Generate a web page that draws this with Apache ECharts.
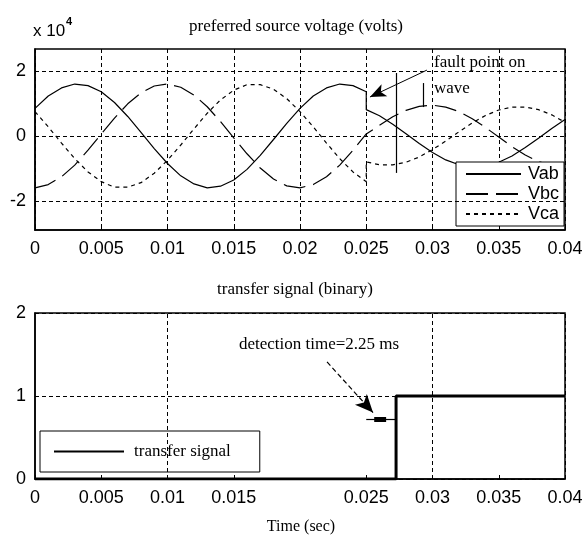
<!DOCTYPE html>
<html>
<head>
<meta charset="utf-8">
<script src="https://cdn.jsdelivr.net/npm/echarts@6/dist/echarts.min.js"></script>
<style>
  html, body { margin: 0; padding: 0; background: #fff; }
  #chart { width: 586px; height: 536px; }
</style>
</head>
<body>
<div id="chart"></div>
<script>
// Sample times (s); 0.025 appears twice: the value just before and just after the fault.
const t = [0, 0.001, 0.002, 0.003, 0.004, 0.005, 0.006, 0.007, 0.008, 0.009,
  0.010, 0.011, 0.012, 0.013, 0.014, 0.015, 0.016, 0.017, 0.018, 0.019,
  0.020, 0.021, 0.022, 0.023, 0.024, 0.025,
  0.025, 0.026, 0.027, 0.028, 0.029, 0.030, 0.031, 0.032, 0.033, 0.034,
  0.035, 0.036, 0.037, 0.038, 0.039, 0.040];

// Line voltages, in units of 10^4 V
const vab = [0.85, 1.23, 1.48, 1.60, 1.55, 1.36, 1.03, 0.60, 0.11, -0.39,
  -0.85, -1.23, -1.48, -1.60, -1.55, -1.36, -1.03, -0.60, -0.11, 0.39,
  0.85, 1.23, 1.48, 1.60, 1.55, 1.36,
  0.81, 0.62, 0.36, 0.07, -0.23, -0.51, -0.74, -0.89, -0.96, -0.93,
  -0.81, -0.62, -0.36, -0.07, 0.23, 0.51];
const vbc = [-1.60, -1.50, -1.26, -0.90, -0.44, 0.06, 0.55, 0.99, 1.33, 1.54,
  1.60, 1.50, 1.26, 0.90, 0.44, -0.06, -0.55, -0.99, -1.33, -1.54,
  -1.60, -1.50, -1.26, -0.90, -0.44, 0.06,
  0.03, 0.33, 0.59, 0.79, 0.91, 0.95, 0.89, 0.75, 0.53, 0.26,
  -0.03, -0.33, -0.59, -0.79, -0.91, -0.95];
const vca = [0.75, 0.28, -0.22, -0.70, -1.11, -1.41, -1.58, -1.58, -1.44, -1.15,
  -0.75, -0.28, 0.22, 0.70, 1.11, 1.41, 1.58, 1.58, 1.44, 1.15,
  0.75, 0.28, -0.22, -0.70, -1.11, -1.41,
  -0.80, -0.89, -0.89, -0.81, -0.65, -0.42, -0.16, 0.13, 0.40, 0.63,
  0.80, 0.89, 0.89, 0.81, 0.65, 0.42];

// Transfer signal (binary), switches at 27.25 ms
const sigT = [0, 0.02725, 0.04];
const sigV = [0, 1, 1];

const voltageNames = ['Vab', 'Vbc', 'Vca'];
const signalName = 'transfer signal';
const topYTicks = [-2, 0, 2];
const bottomXTicks = [0, 0.005, 0.01, 0.015, 0.025, 0.03, 0.035, 0.04];

const SANS = "'Liberation Sans',Arial,sans-serif";
const SERIF = "'Liberation Serif','Times New Roman',serif";
const BLACK = '#000';

const pair = (xs, ys) => xs.map((x, i) => [x, ys[i]]);
const fmt = v => String(+v.toFixed(4));
const gridDash = { color: BLACK, width: 1, type: [4, 3] };

const axisLabelStyle = { color: BLACK, fontFamily: SANS, fontSize: 18 };
const axisLineStyle = { show: true, onZero: false, lineStyle: { color: BLACK, width: 1.5 } };

const chart = echarts.init(document.getElementById('chart'), null, { renderer: 'canvas' });

const option = {
  animation: false,
  backgroundColor: '#fff',
  color: [BLACK],
  textStyle: { fontFamily: SANS, color: BLACK },
  grid: [
    { left: 35, right: 21, top: 49, height: 181, show: true, borderColor: BLACK, borderWidth: 1.5,
      backgroundColor: 'transparent', outerBoundsMode: 'none' },
    { left: 35, right: 21, top: 313, height: 166, show: true, borderColor: BLACK, borderWidth: 1.5,
      backgroundColor: 'transparent', outerBoundsMode: 'none' }
  ],
  xAxis: [
    { gridIndex: 0, type: 'value', min: 0, max: 0.04, interval: 0.005,
      axisLine: axisLineStyle,
      axisTick: { show: true, inside: true, length: 4, lineStyle: { color: BLACK } },
      axisLabel: Object.assign({ margin: 10, formatter: fmt }, axisLabelStyle),
      splitLine: { show: true, lineStyle: gridDash } },
    { gridIndex: 1, type: 'value', min: 0, max: 0.04, interval: 0.005,
      axisLine: axisLineStyle,
      axisTick: { show: true, inside: true, length: 4, lineStyle: { color: BLACK }, customValues: bottomXTicks },
      axisLabel: Object.assign({ margin: 10,
        formatter: v => bottomXTicks.some(b => Math.abs(b - v) < 1e-9) ? fmt(v) : '' }, axisLabelStyle),
      splitLine: { show: false } }
  ],
  yAxis: [
    { gridIndex: 0, type: 'value', min: -2.9, max: 2.68,
      axisLine: axisLineStyle,
      axisTick: { show: true, inside: true, length: 4, lineStyle: { color: BLACK }, customValues: topYTicks },
      axisLabel: Object.assign({ margin: 9, customValues: topYTicks, formatter: fmt }, axisLabelStyle),
      splitLine: { show: false } },
    { gridIndex: 1, type: 'value', min: 0, max: 2, interval: 1,
      axisLine: axisLineStyle,
      axisTick: { show: true, inside: true, length: 4, lineStyle: { color: BLACK } },
      axisLabel: Object.assign({ margin: 9 }, axisLabelStyle),
      splitLine: { show: true, lineStyle: gridDash } }
  ],
  legend: [
    { data: voltageNames, orient: 'vertical', left: 456, top: 162,
      backgroundColor: '#fff', borderColor: BLACK, borderWidth: 1, borderRadius: 0,
      padding: [3, 5, 3, 9], itemWidth: 55, itemHeight: 10, itemGap: 2,
      selectedMode: false, itemStyle: { opacity: 0 },
      textStyle: { fontFamily: SANS, fontSize: 18, color: BLACK, lineHeight: 18, padding: [0, 0, 0, 2] } },
    { data: [signalName], orient: 'horizontal', left: 40, top: 431,
      backgroundColor: '#fff', borderColor: BLACK, borderWidth: 1, borderRadius: 0,
      padding: [12, 29, 12, 13], itemWidth: 70, itemHeight: 10,
      selectedMode: false, itemStyle: { opacity: 0 },
      textStyle: { fontFamily: SERIF, fontSize: 17, color: BLACK, lineHeight: 17, padding: [0, 0, 0, 5] } }
  ],
  graphic: [
    { type: 'text', x: 296, y: 27, style: { text: 'preferred source voltage (volts)', font: '17px ' + SERIF, fill: BLACK, align: 'center', verticalAlign: 'middle' } },
    { type: 'text', x: 295, y: 290, style: { text: 'transfer signal (binary)', font: '17px ' + SERIF, fill: BLACK, align: 'center', verticalAlign: 'middle' } },
    { type: 'text', x: 301, y: 527, style: { text: 'Time (sec)', font: '16px ' + SERIF, fill: BLACK, align: 'center', verticalAlign: 'middle' } },
    { type: 'text', x: 33, y: 31, style: { text: 'x 10', font: '17px ' + SANS, fill: BLACK, align: 'left', verticalAlign: 'middle' } },
    { type: 'text', x: 66, y: 22, style: { text: '4', font: 'bold 11px ' + SANS, fill: BLACK, align: 'left', verticalAlign: 'middle' } },
    { type: 'text', x: 434, y: 63, style: { text: 'fault point on', font: '17px ' + SERIF, fill: BLACK, align: 'left', verticalAlign: 'middle' } },
    { type: 'text', x: 434, y: 89, style: { text: 'wave', font: '17px ' + SERIF, fill: BLACK, align: 'left', verticalAlign: 'middle' } },
    { type: 'text', x: 239, y: 345, style: { text: 'detection time=2.25 ms', font: '17px ' + SERIF, fill: BLACK, align: 'left', verticalAlign: 'middle' } }
  ],
  series: [
    // horizontal grid lines of the voltage panel
    { type: 'line', xAxisIndex: 0, yAxisIndex: 0, data: [], z: 1, silent: true,
      markLine: { silent: true, symbol: 'none', animation: false, label: { show: false },
        lineStyle: gridDash, data: topYTicks.map(v => ({ yAxis: v })) } },
    { name: 'Vab', type: 'line', xAxisIndex: 0, yAxisIndex: 0, data: pair(t, vab),
      symbol: 'none', z: 3, color: BLACK, lineStyle: { color: BLACK, width: 1.2, type: 'solid' } },
    { name: 'Vbc', type: 'line', xAxisIndex: 0, yAxisIndex: 0, data: pair(t, vbc),
      symbol: 'none', z: 3, color: BLACK, lineStyle: { color: BLACK, width: 1.2, type: [22, 8] } },
    { name: 'Vca', type: 'line', xAxisIndex: 0, yAxisIndex: 0, data: pair(t, vca),
      symbol: 'none', z: 3, color: BLACK, lineStyle: { color: BLACK, width: 1.2, type: [4, 4] } },
    // "fault point on wave" arrow
    { type: 'line', xAxisIndex: 0, yAxisIndex: 0, data: [], z: 4, silent: true,
      markLine: { silent: true, symbol: ['none', 'arrow'], symbolSize: [10, 16], animation: false,
        label: { show: false }, lineStyle: { color: BLACK, width: 1, type: 'solid' },
        data: [[{ coord: [0.02958, 2.03] }, { coord: [0.02528, 1.2] }]] } },
    // bracket marks at the fault region
    { type: 'line', xAxisIndex: 0, yAxisIndex: 0, data: [], z: 4, silent: true,
      markLine: { silent: true, symbol: 'none', animation: false,
        label: { show: false }, lineStyle: { color: BLACK, width: 1.2, type: 'solid' },
        data: [
          [{ coord: [0.02725, 1.94] }, { coord: [0.02725, -1.14] }],
          [{ coord: [0.0293, 1.63] }, { coord: [0.0293, 0.89] }]
        ] } },
    // vertical grid lines of the signal panel
    { type: 'line', xAxisIndex: 1, yAxisIndex: 1, data: [], z: 1, silent: true,
      markLine: { silent: true, symbol: 'none', animation: false, label: { show: false },
        lineStyle: gridDash,
        data: bottomXTicks.filter(v => v > 0 && v < 0.04).map(v => ({ xAxis: v })) } },
    { name: signalName, type: 'line', xAxisIndex: 1, yAxisIndex: 1, data: pair(sigT, sigV),
      step: 'end', symbol: 'none', z: 3, color: BLACK, lineStyle: { color: BLACK, width: 3 } },
    // detection-time arrow
    { type: 'line', xAxisIndex: 1, yAxisIndex: 1, data: [], z: 4, silent: true,
      markLine: { silent: true, symbol: ['none', 'arrow'], symbolSize: [12, 18], animation: false,
        label: { show: false }, lineStyle: { color: BLACK, width: 1.2, type: [5, 3] },
        data: [[{ coord: [0.02204, 1.41] }, { coord: [0.02551, 0.80] }]] } },
    // detection interval marker
    { type: 'line', xAxisIndex: 1, yAxisIndex: 1, data: [], z: 4, silent: true,
      markLine: { silent: true, symbol: 'none', animation: false,
        label: { show: false }, lineStyle: { color: BLACK, width: 1.2, type: 'solid' },
        data: [[{ coord: [0.025, 0.72] }, { coord: [0.02725, 0.72] }]] } },
    { type: 'line', xAxisIndex: 1, yAxisIndex: 1, data: [], z: 4, silent: true,
      markLine: { silent: true, symbol: 'none', animation: false,
        label: { show: false }, lineStyle: { color: BLACK, width: 5, type: 'solid' },
        data: [[{ coord: [0.0256, 0.72] }, { coord: [0.0265, 0.72] }]] } }
  ]
};

chart.setOption(option);
</script>
</body>
</html>
